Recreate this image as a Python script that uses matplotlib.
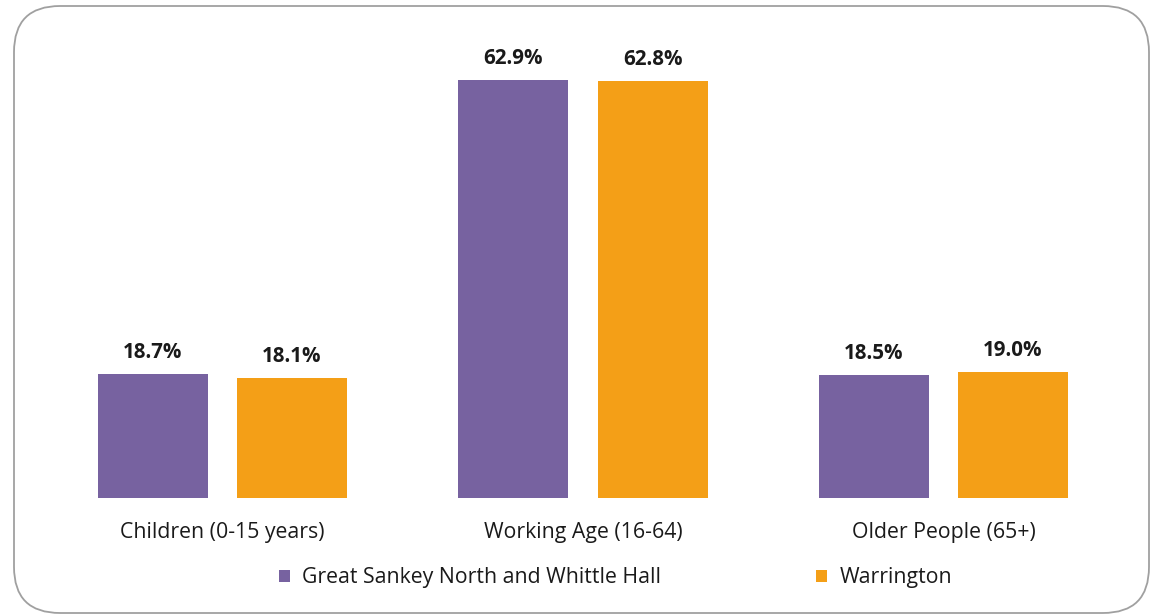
import matplotlib
matplotlib.use("Agg")
import matplotlib.pyplot as plt
from matplotlib.patches import FancyBboxPatch
import numpy as np

categories = ["Children (0-15 years)", "Working Age (16-64)", "Older People (65+)"]
series_names = ["Great Sankey North and Whittle Hall", "Warrington"]
gsn_values = [18.7, 62.9, 18.5]
warr_values = [18.1, 62.8, 19.0]
colors = ["#7762a0", "#f49f17"]

plt.rcParams['font.family'] = ['Open Sans', 'DejaVu Sans']

W, H = 1151, 616
fig = plt.figure(figsize=(W / 100, H / 100), dpi=100)
fig.patch.set_facecolor("white")

# rounded frame
frame = FancyBboxPatch((14 / W, 1 - 613 / H), (1149 - 14) / W, (613 - 6) / H,
                       boxstyle="round,pad=0,rounding_size=0.04",
                       transform=fig.transFigure, facecolor="none",
                       edgecolor="#a0a0a0", linewidth=1.3,
                       mutation_aspect=W / H, zorder=-1)
fig.patches.append(frame)

# axes: x from 42 to 1124 px, baseline at 498 px, ylim 0..70
ppu = 418 / 62.9
ax_left, ax_right = 42.25, 1123.75
base = 498
top = base - 70 * ppu
ax = fig.add_axes([ax_left / W, 1 - base / H, (ax_right - ax_left) / W, (base - top) / H])
ax.set_xlim(-0.5, 2.5)
ax.set_ylim(0, 70)
ax.axis("off")

x = np.arange(len(categories))
bw = 0.305
off = 0.193
b1 = ax.bar(x - off, gsn_values, bw, color=colors[0], label=series_names[0])
b2 = ax.bar(x + off, warr_values, bw, color=colors[1], label=series_names[1])

for bars, vals in ((b1, gsn_values), (b2, warr_values)):
    for rect, v in zip(bars, vals):
        ax.annotate(f"{v:.1f}%", (rect.get_x() + rect.get_width() / 2, v),
                    xytext=(0, 15.2), textcoords="offset points",
                    ha="center", va="center", fontsize=14.8, fontweight="bold",
                    color="#1a1a1a")

for xi, cat in zip(x, categories):
    ax.annotate(cat, (xi, 0), xytext=(0, -25), textcoords="offset points",
                ha="center", va="center", fontsize=15.3, color="#1a1a1a")

leg = fig.legend(handles=[b1, b2], labels=series_names, loc="center",
                 bbox_to_anchor=(615.5 / W, 1 - 578 / H), ncol=2, frameon=False,
                 fontsize=15.3, handlelength=0.52, handleheight=0.52,
                 handletextpad=0.56, columnspacing=7.3, borderpad=0,
                 borderaxespad=0)
for t in leg.get_texts():
    t.set_color("#1a1a1a")

fig.savefig("out.png", dpi=100, facecolor="white")
